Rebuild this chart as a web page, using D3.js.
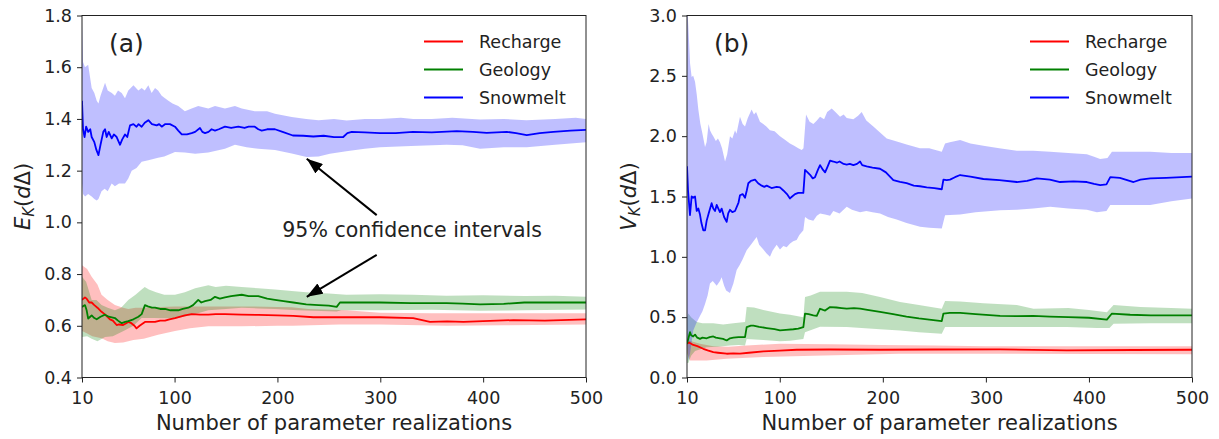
<!DOCTYPE html>
<html>
<head>
<meta charset="utf-8">
<script src="https://cdn.jsdelivr.net/npm/d3@7"></script>
<style>
body { margin: 0; background: #fff; }
svg { font-family: "DejaVu Sans", sans-serif; }
</style>
</head>
<body>
<div id="chart"></div>
<script>
// ---- data: [realizations, value] ----
var xTicks = [10, 100, 200, 300, 400, 500];
var yTicksA = [0.4, 0.6, 0.8, 1.0, 1.2, 1.4, 1.6, 1.8];
var yTicksB = [0.0, 0.5, 1.0, 1.5, 2.0, 2.5, 3.0];
var seriesNames = ["Recharge", "Geology", "Snowmelt"];
var seriesColors = ["#ff0000", "#008000", "#0000ff"];

// (a) E_K
var aRechMean = [[10,0.70],[12.9,0.71],[14.5,0.705],[17,0.69],[19.4,0.69],[22,0.68],[25,0.67],[29,0.654],[32,0.645],[37.2,0.625],[40,0.62],[43.7,0.603],[46,0.605],[50,0.603],[53,0.61],[55,0.615],[58,0.61],[61,0.60],[63,0.59],[66,0.60],[71.2,0.615],[76,0.615],[81,0.615],[86,0.62],[90.7,0.62],[95,0.625],[100.4,0.63],[110,0.64],[116.6,0.645],[125,0.643],[132.8,0.643],[140,0.645],[149,0.645],[165,0.643],[181.4,0.642],[200,0.64],[215.4,0.638],[235,0.633],[267.3,0.633],[299.7,0.633],[332,0.63],[348.3,0.615],[365,0.617],[380.8,0.615],[400,0.618],[429.4,0.622],[460,0.62],[500,0.625]];
var aRechHi = [[10,0.834],[15,0.82],[19.4,0.79],[25,0.76],[29,0.72],[35,0.70],[42,0.68],[50,0.67],[55,0.665],[62,0.67],[68,0.67],[80,0.672],[100.4,0.675],[132.8,0.675],[165.3,0.675],[200,0.673],[213.9,0.672],[230,0.665],[267.3,0.66],[299.7,0.65],[350,0.648],[397,0.648],[450,0.648],[500,0.648]];
var aRechLo = [[10,0.58],[15,0.57],[20,0.56],[29,0.552],[35,0.54],[42,0.533],[50,0.535],[60,0.545],[70,0.55],[84,0.565],[100.4,0.58],[115,0.59],[132.8,0.598],[165.3,0.598],[200,0.60],[215,0.60],[260,0.605],[299.7,0.605],[364.5,0.60],[420,0.602],[500,0.605]];
var aGeoMean = [[10,0.673],[12.9,0.68],[14.5,0.66],[16,0.628],[18,0.635],[19.4,0.64],[22,0.63],[24.3,0.625],[28,0.635],[32.4,0.643],[36,0.635],[42,0.63],[45,0.62],[48.6,0.61],[52,0.615],[55,0.618],[60,0.625],[64.8,0.635],[68,0.645],[71.2,0.68],[74,0.675],[78,0.67],[81,0.67],[86,0.665],[90.7,0.665],[96,0.66],[103.6,0.66],[108,0.665],[113.4,0.67],[118,0.68],[123,0.70],[126,0.69],[129.6,0.695],[135,0.70],[139.3,0.712],[144,0.705],[149,0.71],[155,0.715],[165.3,0.72],[172,0.715],[181.4,0.715],[190,0.705],[197.6,0.70],[206,0.695],[215.4,0.69],[228,0.683],[240,0.68],[250,0.678],[257.6,0.673],[260.8,0.69],[280,0.69],[299.7,0.69],[330,0.688],[364.5,0.688],[380,0.686],[397,0.683],[420,0.685],[440,0.69],[470,0.69],[500,0.69]];
var aGeoHi = [[10,0.79],[14,0.77],[19.4,0.70],[24,0.70],[29,0.68],[35,0.67],[42,0.66],[48,0.67],[55,0.70],[62,0.72],[68,0.74],[71,0.75],[75,0.74],[82,0.73],[90,0.72],[100.4,0.72],[110,0.73],[120,0.745],[132.8,0.757],[140,0.75],[150,0.755],[165.3,0.75],[181.4,0.745],[197.6,0.74],[213.9,0.735],[228,0.73],[250,0.725],[267,0.72],[299.7,0.722],[332,0.72],[364.5,0.716],[400,0.718],[440,0.715],[470,0.716],[500,0.712]];
var aGeoLo = [[10,0.557],[15,0.56],[19.4,0.55],[25,0.54],[32.4,0.557],[40,0.56],[51.8,0.583],[60,0.60],[68,0.63],[80,0.63],[100.4,0.628],[115,0.64],[132.8,0.66],[150,0.665],[165.3,0.67],[181.4,0.667],[197.6,0.665],[220,0.66],[257.6,0.655],[262,0.66],[299.7,0.66],[350,0.662],[397,0.658],[440,0.66],[500,0.663]];
var aSnowMean = [[10,1.47],[11,1.36],[12.5,1.33],[14,1.37],[16,1.35],[18,1.36],[19.4,1.33],[22,1.31],[24,1.28],[26,1.26],[28,1.30],[30.7,1.35],[32.4,1.36],[34,1.33],[36,1.35],[38.9,1.325],[41,1.34],[43.7,1.33],[47,1.30],[49,1.32],[51.8,1.34],[54,1.33],[56.7,1.375],[60,1.38],[63,1.37],[65,1.38],[68,1.37],[71,1.385],[74.5,1.395],[78,1.38],[82.6,1.375],[85,1.38],[87.5,1.37],[91,1.38],[95.5,1.38],[100.4,1.37],[103.6,1.355],[107,1.34],[112,1.34],[116.6,1.345],[120,1.35],[124.7,1.365],[127,1.35],[129.6,1.345],[133,1.35],[136,1.36],[139.3,1.355],[143,1.36],[149,1.37],[155,1.365],[162,1.37],[168,1.365],[172,1.37],[178,1.37],[181.4,1.36],[184.7,1.355],[190,1.36],[197.6,1.36],[205,1.35],[215,1.336],[225,1.335],[234.9,1.332],[245,1.335],[255,1.33],[264,1.33],[268,1.345],[272.2,1.35],[285,1.348],[299.7,1.345],[315,1.345],[331.8,1.35],[350,1.348],[374.3,1.353],[390,1.35],[403.5,1.346],[423,1.35],[432,1.345],[442.4,1.337],[455,1.345],[468.3,1.35],[485,1.355],[500,1.358]];
var aSnowHi = [[10,1.78],[11,1.62],[12.9,1.60],[16,1.61],[19.4,1.52],[22,1.50],[24.3,1.47],[26,1.46],[28,1.49],[32.4,1.54],[35,1.51],[39,1.50],[42,1.49],[45,1.51],[48.6,1.50],[51.8,1.48],[55,1.51],[60,1.53],[64.8,1.51],[68,1.52],[71,1.51],[74.5,1.53],[77.7,1.50],[81,1.52],[84,1.51],[87.5,1.49],[90.7,1.48],[94,1.47],[98,1.46],[103.6,1.45],[110,1.43],[116.6,1.44],[123,1.45],[132.8,1.44],[139.3,1.45],[149,1.44],[158.7,1.45],[165.3,1.44],[178,1.43],[190,1.43],[197.6,1.42],[213.9,1.407],[228,1.40],[240,1.395],[255,1.40],[267.3,1.394],[285,1.40],[299.7,1.40],[320,1.405],[332,1.40],[350,1.40],[370,1.405],[397,1.398],[420,1.40],[442,1.395],[470,1.40],[490,1.405],[500,1.40]];
var aSnowLo = [[10,1.15],[11,1.11],[13,1.10],[16,1.11],[19.4,1.10],[22,1.09],[24.3,1.085],[26,1.09],[29,1.12],[32,1.13],[35,1.12],[38.9,1.15],[42,1.14],[46,1.15],[51.8,1.15],[55,1.17],[58.3,1.20],[63,1.21],[68,1.234],[74.5,1.24],[84,1.25],[90,1.255],[100.4,1.272],[110,1.27],[120,1.265],[132.8,1.27],[149,1.285],[158.7,1.30],[170,1.29],[181.4,1.285],[197.6,1.28],[213.9,1.266],[228.4,1.253],[240,1.255],[251,1.265],[267,1.275],[285,1.285],[299.7,1.29],[330,1.295],[364.5,1.30],[380,1.298],[397,1.285],[420,1.29],[442.4,1.29],[470,1.30],[500,1.31]];

// (b) V_K
var bRechMean = [[10,0.28],[12,0.29],[16.1,0.27],[20,0.26],[25.8,0.238],[30,0.225],[35.5,0.21],[40,0.205],[48.5,0.197],[55,0.20],[61.4,0.198],[70,0.205],[84.1,0.217],[100,0.222],[116.4,0.23],[148.8,0.232],[197.3,0.23],[250,0.232],[313.8,0.233],[378.6,0.224],[443.3,0.228],[500,0.23]];
var bRechHi = [[10,0.31],[22.6,0.28],[35.5,0.26],[50,0.255],[67.9,0.265],[100.2,0.28],[150,0.275],[200,0.27],[250,0.265],[300,0.26],[400,0.258],[500,0.258]];
var bRechLo = [[10,0.20],[12.9,0.14],[29.1,0.14],[48.5,0.155],[84.1,0.17],[132.6,0.18],[216.7,0.197],[300,0.197],[400,0.195],[500,0.193]];
var bGeoMean = [[10,0.28],[11.5,0.33],[12.9,0.376],[14,0.35],[16,0.34],[17.8,0.355],[20,0.33],[22.6,0.32],[25,0.33],[29.1,0.325],[32,0.335],[35.5,0.34],[38,0.33],[42,0.325],[45,0.32],[48.5,0.307],[51.7,0.325],[55,0.33],[60,0.335],[66.3,0.335],[67.9,0.418],[72,0.43],[74.4,0.43],[80,0.42],[87.3,0.41],[95,0.40],[100.2,0.39],[106,0.395],[113.2,0.40],[118,0.405],[122.9,0.418],[124.5,0.53],[128,0.525],[132.6,0.515],[135.9,0.51],[139.1,0.57],[142,0.56],[144,0.555],[148.8,0.584],[155,0.58],[160,0.575],[165,0.57],[172,0.575],[178,0.57],[185,0.56],[197.3,0.543],[210,0.525],[223,0.505],[235,0.49],[245,0.48],[257.2,0.468],[258.8,0.53],[265,0.535],[275,0.535],[290,0.525],[313.8,0.51],[330,0.508],[346,0.51],[362,0.505],[380,0.50],[400,0.495],[417.4,0.48],[422.3,0.53],[440,0.52],[460,0.515],[480,0.515],[500,0.515]];
var bGeoHi = [[10,0.50],[11.3,0.53],[14,0.50],[19.4,0.46],[25,0.45],[35.5,0.45],[45,0.44],[55,0.45],[66.3,0.46],[67.9,0.585],[75,0.58],[84.1,0.56],[100.2,0.53],[110,0.52],[122.9,0.50],[124.5,0.667],[130,0.68],[139.1,0.71],[150,0.71],[165,0.71],[180,0.70],[197.3,0.667],[216.7,0.625],[235,0.60],[257.2,0.57],[260.4,0.634],[275,0.63],[297.6,0.615],[330,0.60],[346.2,0.57],[380,0.575],[400,0.56],[417.4,0.54],[423.9,0.60],[450,0.585],[480,0.575],[500,0.57]];
var bGeoLo = [[10,0.12],[11.3,0.12],[14,0.18],[17.8,0.22],[29.1,0.25],[40,0.255],[51.7,0.266],[60,0.27],[66.3,0.266],[67.9,0.32],[84,0.31],[100.2,0.30],[110,0.305],[122.9,0.32],[124.5,0.376],[139.1,0.42],[165,0.418],[197.3,0.40],[216.7,0.39],[235,0.375],[257.2,0.363],[260.4,0.418],[313.8,0.418],[378.6,0.418],[407.7,0.41],[420,0.41],[423.9,0.446],[460,0.45],[500,0.45]];
var bSnowMean = [[10,1.75],[11,1.55],[12.9,1.345],[14.5,1.50],[16,1.49],[17.8,1.50],[19.4,1.38],[21,1.40],[22.6,1.35],[24,1.28],[25.8,1.22],[27.5,1.22],[29.1,1.30],[31,1.36],[33.9,1.445],[35.5,1.40],[37.2,1.38],[38.8,1.43],[40.4,1.40],[42,1.37],[43.6,1.40],[46,1.33],[48.5,1.29],[50,1.36],[51.7,1.39],[54,1.37],[56.6,1.38],[60,1.45],[61.4,1.51],[64,1.52],[66.3,1.49],[68,1.55],[69.5,1.61],[72,1.63],[76,1.64],[79,1.61],[82.5,1.59],[85,1.58],[87.3,1.59],[92,1.57],[97,1.58],[100.2,1.575],[103.5,1.55],[107,1.52],[109.9,1.484],[112,1.50],[114.8,1.52],[118,1.53],[122.9,1.53],[124.5,1.72],[127,1.70],[129.4,1.68],[132,1.65],[134.2,1.66],[137,1.72],[139.1,1.76],[142,1.72],[144,1.70],[146,1.74],[148.8,1.797],[152,1.79],[155.4,1.78],[158,1.79],[162,1.77],[165,1.765],[168,1.77],[171.4,1.76],[175,1.77],[177.9,1.79],[180,1.76],[184.3,1.75],[190,1.74],[197.3,1.73],[203,1.70],[210.2,1.636],[216.7,1.622],[223.1,1.61],[230,1.59],[236,1.585],[242.6,1.575],[250,1.57],[257.2,1.56],[258.8,1.64],[262,1.635],[265.2,1.64],[270,1.66],[275,1.678],[285,1.665],[297.6,1.645],[313,1.635],[330,1.62],[340,1.63],[349.4,1.65],[362,1.64],[372,1.62],[385,1.625],[398,1.62],[405,1.605],[410.9,1.595],[417,1.60],[420.7,1.66],[430,1.655],[443.3,1.62],[450,1.64],[459.5,1.65],[475,1.655],[490,1.66],[500,1.665]];
var bSnowHi = [[10,3.1],[11.3,2.91],[13,2.6],[14.5,2.49],[16,2.50],[17.8,2.45],[19.4,2.35],[21,2.22],[23,2.10],[25,2.02],[27.5,1.91],[29,1.95],[31,2.10],[32.3,2.05],[34,2.02],[35.5,2.00],[38,1.96],[40,1.98],[42,1.95],[44,1.90],[46.9,1.79],[49,1.85],[51.7,2.00],[54,1.98],[56.6,2.05],[58,2.02],[61.4,2.16],[64,2.10],[66.3,2.08],[69,2.15],[72.7,2.22],[75,2.18],[77,2.20],[80.8,2.12],[84,2.10],[87,2.08],[90.5,2.05],[95,2.04],[100.2,2.00],[105,1.97],[109.9,1.94],[114,1.92],[118,1.90],[121.3,1.885],[123,1.90],[125.5,2.18],[129,2.12],[132.6,2.10],[136,2.13],[139.1,2.16],[143,2.14],[146,2.20],[150.4,2.23],[154,2.20],[158.5,2.16],[162,2.18],[165,2.15],[171.4,2.14],[176,2.17],[179.5,2.20],[184,2.13],[190.8,2.08],[197.3,2.03],[203.8,1.98],[212,1.96],[223.1,1.93],[236,1.90],[245,1.90],[257.2,1.87],[260.4,1.94],[265,1.95],[275,1.968],[285,1.94],[297.6,1.92],[313,1.90],[330,1.88],[346,1.88],[362.4,1.87],[380,1.86],[398,1.85],[405,1.83],[410.9,1.81],[418,1.82],[422.3,1.87],[440,1.87],[459.5,1.87],[480,1.86],[500,1.86]];
var bSnowLo = [[10,0.30],[11.3,0.14],[13,0.20],[16.1,0.39],[19,0.45],[22.6,0.51],[25,0.55],[27.5,0.61],[30,0.68],[32.3,0.78],[35,0.80],[38.8,0.76],[42,0.80],[43.6,0.83],[46,0.76],[48,0.72],[51.7,0.70],[55,0.78],[58.2,0.89],[61,0.93],[64,0.98],[67.9,1.055],[72,1.10],[77.6,1.165],[80,1.10],[84.1,1.06],[87,1.03],[90.5,1.00],[93,1.05],[97,1.10],[100.2,1.06],[103.5,1.09],[106.7,1.08],[110,1.11],[113,1.13],[116.4,1.14],[119,1.18],[122.9,1.22],[124.5,1.33],[128,1.31],[132.6,1.30],[136,1.34],[139.1,1.36],[144,1.35],[148.8,1.34],[152,1.38],[158,1.36],[165,1.415],[170,1.39],[177.9,1.37],[184,1.38],[190,1.37],[197.3,1.36],[205,1.33],[213.4,1.31],[223,1.28],[236.1,1.25],[245,1.24],[257.2,1.235],[260.4,1.345],[275,1.35],[290,1.37],[313.8,1.387],[330,1.39],[346,1.40],[362.4,1.415],[380,1.40],[398,1.39],[407.7,1.37],[417,1.38],[420.7,1.43],[440,1.43],[459.5,1.43],[480,1.46],[500,1.484]];

// annotation in panel (a): label position and the two arrow tips, in data units
var noteText = "95% confidence intervals";
var noteAt = [331, 0.969];
var arrowTails = [[296.5, 1.028], [296.5, 0.874]];
var arrowTips = [[228.5, 1.246], [228.5, 0.712]];

var outerWidth = 1219, outerHeight = 439;
var plotTop = 15.5, plotBottom = 377.5;

var panels = [
  {tag: "(a)", left: 82, right: 586, yDomain: [0.4, 1.8], yTicks: yTicksA, yLetter: "E", yLabelX: 30,
   mean: [aRechMean, aGeoMean, aSnowMean], hi: [aRechHi, aGeoHi, aSnowHi], lo: [aRechLo, aGeoLo, aSnowLo]},
  {tag: "(b)", left: 687, right: 1192, yDomain: [0, 3], yTicks: yTicksB, yLetter: "V", yLabelX: 636,
   mean: [bRechMean, bGeoMean, bSnowMean], hi: [bRechHi, bGeoHi, bSnowHi], lo: [bRechLo, bGeoLo, bSnowLo]}
];

var svg = d3.select("#chart")
  .append("svg")
  .attr("width", outerWidth)
  .attr("height", outerHeight);

var defs = svg.append("defs");
defs.append("marker")
  .attr("id", "head")
  .attr("markerUnits", "userSpaceOnUse")
  .attr("viewBox", "0 0 16 12")
  .attr("refX", 16).attr("refY", 6)
  .attr("markerWidth", 16).attr("markerHeight", 12)
  .attr("orient", "auto")
  .append("path")
  .attr("d", "M0,0L16,6L0,12Z")
  .attr("fill", "#000");

panels.forEach(function(p, pi) {
  var x = d3.scaleLinear().domain([10, 500]).range([p.left, p.right]);
  var y = d3.scaleLinear().domain(p.yDomain).range([plotBottom, plotTop]);

  defs.append("clipPath").attr("id", "clip" + pi)
    .append("rect")
    .attr("x", p.left).attr("y", plotTop)
    .attr("width", p.right - p.left).attr("height", plotBottom - plotTop);

  var g = svg.append("g");
  var plot = g.append("g").attr("clip-path", "url(#clip" + pi + ")");

  var line = d3.line().x(function(d) { return x(d[0]); }).y(function(d) { return y(d[1]); });

  // confidence bands: upper edge forward, lower edge back
  seriesNames.forEach(function(name, i) {
    var poly = p.hi[i].concat(p.lo[i].slice().reverse());
    plot.append("path")
      .attr("d", line(poly) + "Z")
      .attr("fill", seriesColors[i])
      .attr("fill-opacity", 0.25)
      .attr("stroke", "none");
  });

  // mean lines
  seriesNames.forEach(function(name, i) {
    plot.append("path")
      .attr("d", line(p.mean[i]))
      .attr("fill", "none")
      .attr("stroke", seriesColors[i])
      .attr("stroke-width", 1.8)
      .attr("stroke-linejoin", "round");
  });

  // axes
  var xAxis = g.append("g")
    .attr("transform", "translate(0," + plotBottom + ")")
    .call(d3.axisBottom(x).tickValues(xTicks).tickSize(5).tickPadding(9));
  var yAxis = g.append("g")
    .attr("transform", "translate(" + p.left + ",0)")
    .call(d3.axisLeft(y).tickValues(p.yTicks).tickFormat(d3.format(".1f")).tickSize(5).tickPadding(5));
  [xAxis, yAxis].forEach(function(ax) {
    ax.select(".domain").remove();
    ax.selectAll("line").attr("stroke", "#222");
    ax.selectAll("text").attr("fill", "#222").style("font-size", "17.5px").style("font-family", "DejaVu Sans");
  });

  // frame
  g.append("rect")
    .attr("x", p.left).attr("y", plotTop)
    .attr("width", p.right - p.left).attr("height", plotBottom - plotTop)
    .attr("fill", "none").attr("stroke", "#222").attr("stroke-width", 1);

  // axis titles
  g.append("text")
    .attr("x", (p.left + p.right) / 2).attr("y", 430)
    .attr("text-anchor", "middle")
    .attr("fill", "#222")
    .style("font-size", "21px")
    .text("Number of parameter realizations");

  var yl = g.append("text")
    .attr("transform", "translate(" + p.yLabelX + "," + (plotTop + plotBottom) / 2 + ") rotate(-90)")
    .attr("text-anchor", "middle")
    .attr("fill", "#222")
    .style("font-size", "21px");
  yl.append("tspan").style("font-style", "italic").text(p.yLetter);
  yl.append("tspan").style("font-style", "italic").style("font-size", "15px").attr("dy", 4).text("K");
  yl.append("tspan").attr("dy", -4).text("(");
  yl.append("tspan").style("font-style", "italic").text("d");
  yl.append("tspan").text("\u0394)");

  // panel tag
  g.append("text")
    .attr("x", p.left + 27).attr("y", plotTop + 36)
    .attr("fill", "#222")
    .style("font-size", "25px")
    .text(p.tag);

  // legend
  var leg = g.append("g").attr("transform", "translate(" + (p.right - 162) + "," + (plotTop + 26) + ")");
  seriesNames.forEach(function(name, i) {
    var row = leg.append("g").attr("transform", "translate(0," + i * 28 + ")");
    row.append("line").attr("x1", 0).attr("x2", 39).attr("y1", 0).attr("y2", 0)
      .attr("stroke", seriesColors[i]).attr("stroke-width", 1.8);
    row.append("text").attr("x", 55).attr("y", 6.5)
      .attr("fill", "#222")
      .style("font-size", "17.5px")
      .text(name);
  });

  // annotation only on panel (a)
  if (pi === 0) {
    g.append("text")
      .attr("x", x(noteAt[0])).attr("y", y(noteAt[1]) + 7)
      .attr("text-anchor", "middle")
      .attr("fill", "#222")
      .style("font-size", "20.5px")
      .text(noteText);
    arrowTips.forEach(function(tip, k) {
      g.append("line")
        .attr("x1", x(arrowTails[k][0])).attr("y1", y(arrowTails[k][1]))
        .attr("x2", x(tip[0])).attr("y2", y(tip[1]))
        .attr("stroke", "#000").attr("stroke-width", 2)
        .attr("marker-end", "url(#head)");
    });
  }
});
</script>
</body>
</html>
